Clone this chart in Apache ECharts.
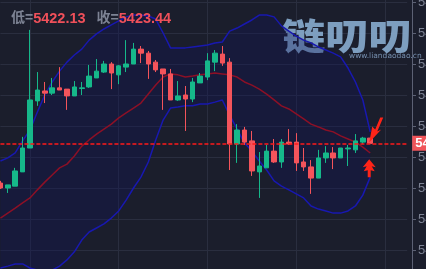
<!DOCTYPE html>
<html>
<head>
<meta charset="utf-8">
<script src="https://cdn.jsdelivr.net/npm/echarts@6/dist/echarts.min.js"></script>
<style>
html,body{margin:0;padding:0;background:#1b1e2c;}
#c{width:426px;height:269px;}
</style>
</head>
<body>
<div id="c"></div>
<script>
// ---- data ----
const categoryCount = 56;
const categories = [];
for (let i = 0; i < categoryCount; i++) { categories.push('K' + (i + 1)); }

const opens  = [5422.16,5422.00,5422.06,5422.52,5423.29,5424.81,5425.13,5425.06,5425.23,5425.19,5424.97,5425.21,5425.26,5425.55,5425.74,5426.00,5425.65,5425.90,5426.00,5426.48,5426.35,5426.06,5425.84,5425.68,5424.84,5425.00,5424.87,5425.39,5425.58,5426.06,5426.32,5426.06,5423.42,5423.87,5423.52,5422.52,5422.65,5423.19,5422.84,5423.48,5423.48,5422.84,5422.68,5422.32,5422.97,5423.13,5422.97,5423.26,5423.23,5423.48,5423.61];
const closes = [5422.00,5422.10,5422.55,5423.29,5424.84,5425.16,5425.06,5425.23,5425.16,5424.97,5425.26,5425.23,5425.61,5425.77,5426.00,5425.71,5425.94,5426.00,5426.48,5426.35,5426.00,5425.81,5425.68,5424.84,5424.97,5424.87,5425.42,5425.61,5426.10,5426.35,5426.03,5423.42,5423.87,5423.48,5422.55,5422.71,5423.19,5422.84,5423.48,5423.42,5422.81,5422.68,5422.32,5422.97,5423.13,5422.97,5423.29,5423.29,5423.52,5423.61,5423.44];
const lows   = [5421.97,5421.84,5422.06,5422.52,5423.29,5424.65,5424.74,5425.00,5425.16,5424.52,5424.97,5425.00,5425.23,5425.55,5425.71,5425.19,5425.35,5425.74,5426.00,5426.03,5425.52,5425.74,5424.52,5424.84,5424.81,5423.84,5424.77,5425.39,5425.48,5425.77,5425.94,5422.58,5422.81,5423.39,5422.39,5421.68,5422.65,5422.81,5422.65,5423.39,5422.55,5422.55,5421.81,5422.32,5422.81,5422.61,5422.97,5422.71,5423.13,5423.42,5423.44];
const highs  = [5422.23,5422.10,5422.65,5423.65,5427.10,5425.74,5425.42,5425.55,5425.90,5425.19,5425.45,5425.42,5425.97,5426.16,5426.10,5426.06,5425.97,5426.77,5426.68,5426.58,5426.42,5426.13,5425.84,5425.84,5425.45,5425.29,5425.55,5425.71,5426.35,5426.45,5426.58,5426.19,5424.06,5423.97,5423.84,5423.16,5423.39,5423.58,5423.58,5423.90,5423.77,5423.29,5422.90,5423.23,5423.35,5423.32,5423.29,5423.39,5423.74,5423.65,5423.61];

const bollUpper  = [5422.87,5422.97,5423.13,5423.52,5423.87,5424.45,5425.00,5425.42,5425.77,5426.06,5426.29,5426.48,5426.77,5426.97,5427.13,5427.26,5427.39,5427.52,5427.58,5427.58,5427.55,5427.45,5427.00,5426.52,5426.52,5426.52,5426.55,5426.58,5426.61,5426.68,5426.71,5427.06,5427.16,5427.29,5427.42,5427.58,5427.58,5427.52,5427.23,5427.06,5426.90,5426.77,5426.68,5426.55,5426.45,5426.35,5426.23,5425.87,5425.42,5424.84,5423.81];
const bollMiddle = [5421.03,5421.19,5421.35,5421.52,5421.68,5421.94,5422.19,5422.42,5422.65,5422.77,5423.03,5423.35,5423.55,5423.74,5423.90,5424.06,5424.26,5424.42,5424.58,5424.74,5425.03,5425.32,5425.58,5425.68,5425.65,5425.58,5425.61,5425.65,5425.68,5425.71,5425.68,5425.65,5425.58,5425.42,5425.32,5425.19,5425.03,5424.84,5424.65,5424.55,5424.39,5424.23,5424.06,5423.97,5423.87,5423.81,5423.68,5423.58,5423.48,5423.32,5423.13];
const bollLower  = [5419.42,5419.48,5419.55,5419.55,5419.42,5419.35,5419.32,5419.35,5419.48,5419.68,5419.94,5420.32,5420.58,5420.71,5420.84,5421.03,5421.26,5421.61,5422.00,5422.35,5422.84,5423.55,5424.19,5424.58,5424.61,5424.65,5424.65,5424.71,5424.71,5424.77,5424.84,5424.35,5423.90,5423.45,5423.19,5422.87,5422.58,5422.23,5422.06,5421.94,5421.81,5421.68,5421.42,5421.32,5421.26,5421.19,5421.19,5421.26,5421.42,5421.77,5422.35];

const headerLow = '5422.13';
const headerClose = '5423.44';
const yMin = 5419, yMax = 5429, yStep = 1;

// ---- build ----
const candleData = opens.map((o, i) => [o, closes[i], lows[i], highs[i]]);
const bandSpan = bollUpper.map((u, i) => +(u - bollLower[i]).toFixed(2));
const lastIdx = closes.length - 1;
const lastClose = closes[lastIdx];

const UP = '#16b88a', DOWN = '#f4545b';
const GRIDC = '#2a2e3f';

const chart = echarts.init(document.getElementById('c'), null, {renderer: 'canvas'});

chart.setOption({
  animation: false,
  backgroundColor: '#1b1e2c',
  title: {
    left: 11, top: 11, padding: 0,
    text: '{a|低=}{b|' + headerLow + '}{s| }{a|收=}{b|' + headerClose + '}',
    textStyle: {
      rich: {
        a: {color: '#7d8394', fontSize: 14, fontFamily: 'Liberation Sans, Noto Sans CJK SC'},
        b: {color: '#f0505a', fontSize: 14.5, fontFamily: 'Liberation Sans'},
        s: {width: 11, fontSize: 14}
      }
    }
  },
  graphic: [
    {
      type: 'text', left: 282, top: 18, z: 1, scaleX: 1.2,
      style: {text: '链叨叨', fontSize: 36, fontWeight: 900, fontFamily: 'Noto Sans CJK SC', fill: '#86a9cc', opacity: 0.92}
    },
    {
      type: 'text', left: 349, top: 52, z: 1,
      style: {text: 'www.liandaodao.cn', fontSize: 7.5, fontFamily: 'DejaVu Sans', fill: '#7f9bbd', opacity: 0.9}
    }
  ],
  grid: {left: 0.4, right: 18.8, top: -29, bottom: -12, show: false, containLabel: false, outerBoundsMode: 'none'},
  xAxis: {
    type: 'category', data: categories, boundaryGap: false,
    axisLine: {show: false}, axisTick: {show: false}, axisLabel: {show: false},
    splitLine: {show: true, interval: function (i) { return i % 12 === 4; }, lineStyle: {color: GRIDC, width: 1}}
  },
  yAxis: {
    type: 'value', position: 'right', offset: 4.8,
    min: yMin, max: yMax, interval: yStep,
    axisLine: {show: true, lineStyle: {color: '#5c6174'}},
    axisTick: {show: true, length: 4, lineStyle: {color: '#5c6174'}},
    axisLabel: {color: '#7d8394', fontSize: 13, margin: 6, fontFamily: 'Liberation Sans', formatter: v => v.toFixed(2), hideOverlap: false},
    splitLine: {show: true, lineStyle: {color: GRIDC, width: 1}}
  },
  series: [
    {
      name: 'bandBase', type: 'line', data: bollLower, stack: 'band', symbol: 'none', silent: true,
      lineStyle: {opacity: 0}, z: 1
    },
    {
      name: 'bandFill', type: 'line', data: bandSpan, stack: 'band', symbol: 'none', silent: true,
      lineStyle: {opacity: 0}, areaStyle: {color: 'rgba(16,20,92,0.45)'}, z: 1
    },
    {
      name: 'upper', type: 'line', data: bollUpper, symbol: 'none', clip: false,
      lineStyle: {color: '#1818b0', width: 1.5}, z: 3
    },
    {
      name: 'lower', type: 'line', data: bollLower, symbol: 'none', clip: false,
      lineStyle: {color: '#1818b0', width: 1.5}, z: 3
    },
    {
      name: 'middle', type: 'line', data: bollMiddle, symbol: 'none', clip: false,
      lineStyle: {color: '#8c1026', width: 1.5}, z: 3
    },
    {
      name: 'K', type: 'candlestick', data: candleData, barWidth: 5, clip: false, z: 4,
      itemStyle: {color: UP, color0: DOWN, borderColor: UP, borderColor0: DOWN, borderWidth: 1},
      markLine: {
        silent: true, symbol: 'none', animation: false,
        lineStyle: {color: '#ff1a1a', type: [4, 2], width: 1.5, opacity: 1},
        emphasis: {disabled: true},
        label: {
          show: true, position: 'end', distance: 5,
          formatter: function () { return lastClose.toFixed(2); },
          color: '#ffffff', fontSize: 13, fontWeight: 'bold', fontFamily: 'Liberation Sans',
          backgroundColor: '#f0555a', padding: [1, 3, 0, 3], lineHeight: 14
        },
        data: [{yAxis: lastClose, lineStyle: {color: '#ff1a1a', width: 1.5}}]
      },
      markPoint: {
        silent: true, animation: false,
        label: {show: false},
        data: [
          {
            coord: [lastIdx, lows[lastIdx]],
            symbol: 'path://M6.5,0 L13,8 L9,7 L12,12 L8,11 L8,18 L5,18 L5,11 L1,12 L4,7 L0,8 Z',
            symbolSize: [13, 18], symbolOffset: [-1, 25], symbolKeepAspect: false,
            itemStyle: {color: '#ff2418'}
          },
          {
            coord: [lastIdx, highs[lastIdx]],
            symbol: 'path://M15,0 L9,14 L13,12 L1,25 L4,9 L7,12 L12,0 Z',
            symbolSize: [14, 25], symbolOffset: [6, -8], symbolKeepAspect: false,
            itemStyle: {color: '#ff2418'}
          }
        ]
      }
    }
  ]
});
</script>
</body>
</html>
